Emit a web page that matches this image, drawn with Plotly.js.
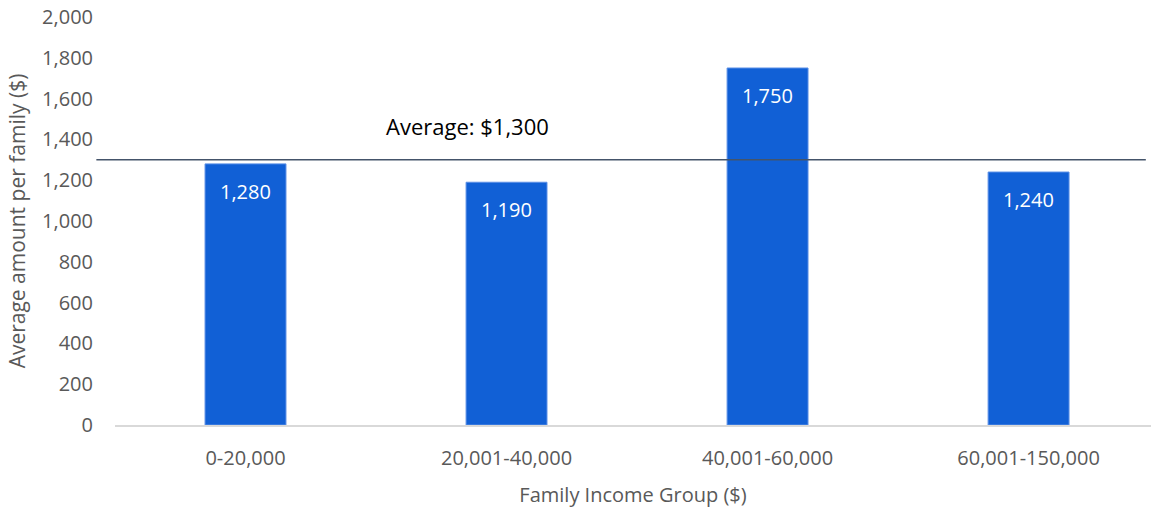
<!DOCTYPE html>
<html>
<head>
<meta charset="utf-8">
<script src="https://cdn.plot.ly/plotly-3.0.1.min.js"></script>
<style>html,body{margin:0;padding:0;background:#fff;}#chart{width:1151px;height:508px;}</style>
</head>
<body>
<div id="chart"></div>
<script>
const categories = ["0-20,000", "20,001-40,000", "40,001-60,000", "60,001-150,000"];
const values = [1280, 1190, 1750, 1240];
const valueLabels = ["1,280", "1,190", "1,750", "1,240"];
const averageValue = 1300;
const averageLabel = "Average: $1,300";
const yTickValues = [0, 200, 400, 600, 800, 1000, 1200, 1400, 1600, 1800, 2000];
const yTickLabels = ["0", "200", "400", "600", "800", "1,000", "1,200", "1,400", "1,600", "1,800", "2,000"];

const FONT = "Open Sans, Noto Sans, sans-serif";

const trace = {
  type: "bar",
  x: categories,
  y: values,
  marker: { color: "#1160d6", line: { color: "#5b8fe6", width: 1 } },
  hoverinfo: "skip",
  showlegend: false
};

const labelAnnotations = categories.map((c, i) => ({
  x: c, y: values[i], xref: "x", yref: "y",
  text: valueLabels[i], showarrow: false,
  yanchor: "top", yshift: -12,
  font: { family: FONT, size: 20, color: "#ffffff" }
}));

const layout = {
  width: 1151, height: 508,
  margin: { l: 115, r: 0, t: 17, b: 83 },
  paper_bgcolor: "#ffffff", plot_bgcolor: "#ffffff",
  bargap: 0.69,
  xaxis: {
    type: "category",
    range: [-0.5, 3.469],
    showline: true, linecolor: "#d9d9d9", linewidth: 2,
    ticks: "", showgrid: false, zeroline: false,
    ticklabelstandoff: 14,
    tickfont: { family: FONT, size: 20, color: "#595959" },
    title: { text: "Family Income Group ($)", standoff: 18, font: { family: FONT, size: 20, color: "#595959" } }
  },
  yaxis: {
    range: [0, 2000],
    tickvals: yTickValues, ticktext: yTickLabels,
    showgrid: false, zeroline: false, showline: false, ticks: "",
    ticklabelstandoff: 21,
    tickfont: { family: FONT, size: 20, color: "#595959" },
    title: { text: "Average amount per family ($)", standoff: 10, font: { family: FONT, size: 21, color: "#595959" } }
  },
  shapes: [{
    type: "line", xref: "paper", yref: "y",
    x0: -0.018, x1: 0.995, y0: averageValue, y1: averageValue,
    line: { color: "#44546a", width: 1.5 }
  }],
  annotations: [{
    x: 0.34, xref: "paper", y: averageValue, yref: "y",
    text: averageLabel, showarrow: false,
    yanchor: "bottom", yshift: 17, xanchor: "center",
    font: { family: FONT, size: 22, color: "#000000" }
  }].concat(labelAnnotations)
};

Plotly.newPlot("chart", [trace], layout, { displayModeBar: false, staticPlot: true });
</script>
</body>
</html>
